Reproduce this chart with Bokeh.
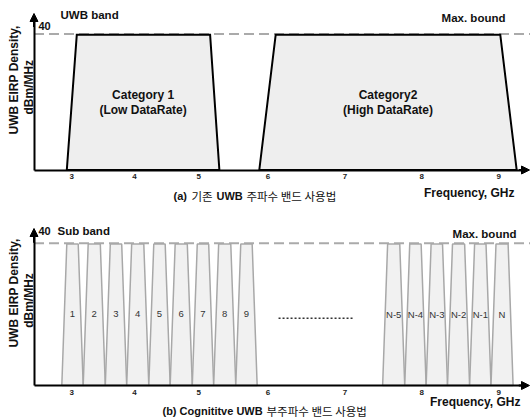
import numpy as np
from bokeh.plotting import figure
from bokeh.layouts import column
from bokeh.models import Range1d, FixedTicker, Arrow, NormalHead, Label
from bokeh.core.properties import value
from bokeh.embed import file_html
from bokeh.resources import INLINE

# ---------------- data ----------------
tick_pos = [2.99, 3.87, 4.77, 5.74, 6.82, 7.90, 8.98]
tick_labels = ["3", "4", "5", "6", "7", "8", "9"]
max_bound = 40

# (a) conventional UWB band usage
cat_names = ["Category 1\n(Low DataRate)", "Category2\n(High DataRate)"]
cat_bottom_lo = [2.92, 5.62]
cat_top_lo = [3.06, 5.85]
cat_top_hi = [4.93, 9.00]
cat_bottom_hi = [5.06, 9.23]
cat_level = [39.8, 39.8]

# (b) cognitive UWB sub-band usage
sub_names = ["1", "2", "3", "4", "5", "6", "7", "8", "9",
             "N-5", "N-4", "N-3", "N-2", "N-1", "N"]
sub_lo = [2.85, 3.15, 3.46, 3.76, 4.07, 4.37, 4.68, 4.98, 5.29,
          7.35, 7.66, 7.96, 8.26, 8.57, 8.87]
sub_hi = [3.15, 3.46, 3.76, 4.07, 4.37, 4.68, 4.98, 5.29, 5.59,
          7.66, 7.96, 8.26, 8.57, 8.87, 9.18]
sub_level = 39.8
gap_x = [5.89, 6.94]
gap_y = [18.9, 18.9]

# ---------------- style ----------------
LAT = "Liberation Sans"
KOR = "Noto Sans CJK KR"
XL, XR = 1.990, 9.424      # canvas extent in frequency units
YAX = 2.46                 # where the power axis stands
XTIP = 9.41


def base_fig(y_lo, y_hi, y_tip, std):
    p = figure(width=530, height=210, title=None,
               x_range=Range1d(XL, XR), y_range=Range1d(y_lo, y_hi),
               output_backend="svg", toolbar_location=None,
               min_border=0, min_border_left=0, min_border_right=0,
               min_border_top=0, min_border_bottom=0)
    p.grid.visible = False
    p.outline_line_color = None
    xa = p.xaxis[0]
    xa.fixed_location = 0
    xa.bounds = (YAX, XTIP - 0.05)
    xa.ticker = FixedTicker(ticks=tick_pos)
    xa.major_label_overrides = {t: l for t, l in zip(tick_pos, tick_labels)}
    xa.axis_line_width = 2
    xa.axis_line_color = "black"
    xa.major_tick_line_color = None
    xa.minor_tick_line_color = None
    xa.major_tick_out = 0
    xa.major_tick_in = 0
    xa.major_label_text_font = LAT
    xa.major_label_text_font_style = "bold"
    xa.major_label_text_font_size = "8px"
    xa.major_label_text_color = "#222222"
    xa.major_label_standoff = std
    ya = p.yaxis[0]
    ya.fixed_location = YAX
    ya.bounds = (0, y_tip - 1)
    ya.ticker = FixedTicker(ticks=[])
    ya.axis_line_width = 2
    ya.axis_line_color = "black"
    ya.major_tick_line_color = None
    ya.minor_tick_line_color = None
    ya.major_label_text_font_size = "0px"
    # max. bound dashed level
    p.line([YAX, XR], [max_bound, max_bound], line_color="#aaaaaa",
           line_width=2, line_dash="10 5")
    p.add_layout(Arrow(end=NormalHead(size=8, fill_color="black", line_color="black", line_width=1),
                       x_start=YAX, y_start=y_tip - 4, x_end=YAX, y_end=y_tip,
                       line_width=2, line_color="black"))
    p.add_layout(Arrow(end=NormalHead(size=8, fill_color="black", line_color="black", line_width=1),
                       x_start=XTIP - 0.15, y_start=0, x_end=XTIP, y_end=0,
                       line_width=2, line_color="black"))
    return p


def lab(p, x, y, text, size="11.5px", bold=True, font=LAT, align="left", angle=0):
    p.add_layout(Label(x=x, y=y, text=text, text_font=font,
                       text_font_style="bold" if bold else "normal",
                       text_font_size=size, text_align=align,
                       text_baseline="middle", text_color="#111111", angle=angle))


# ---------------- top panel ----------------
p1 = base_fig(-11.91, 49.85, 46.03, 4)
xs1 = [[a, b, c, d] for a, b, c, d in zip(cat_bottom_lo, cat_top_lo, cat_top_hi, cat_bottom_hi)]
ys1 = [[0, h, h, 0] for h in cat_level]
p1.patches(xs1, ys1, fill_color="#eeeeee", line_color="black", line_width=2,
           line_join="miter")
cx1 = [(a + d) / 2 for a, d in zip(cat_bottom_lo, cat_bottom_hi)]
p1.text(x=cx1, y=[19.85] * len(cx1), text=cat_names, text_font=value(LAT),
        text_font_style="bold", text_font_size="12px", text_align="center",
        text_baseline="middle", text_line_height=1.05, text_color="#111111")
lab(p1, 2.832, 45.7, "UWB band")
lab(p1, 2.523, 42.4, "40", size="11px")
lab(p1, 9.073, 44.85, "Max. bound", align="right")
lab(p1, 9.199, -6.62, "Frequency, GHz", size="12px", align="right")
lab(p1, 2.173, 26.5, "UWB EIRP Density,", size="12px", align="center", angle=np.pi / 2)
lab(p1, 2.383, 24.35, "dBm/MHz", size="12px", align="center", angle=np.pi / 2)
lab(p1, 4.417, -7.79, "(a)", size="11px")
lab(p1, 4.669, -7.79, "기존", size="11.5px", bold=False, font=KOR)
lab(p1, 5.020, -7.79, "UWB", size="11px")
lab(p1, 5.440, -7.79, "주파수 밴드 사용법", size="11.5px", bold=False, font=KOR)

# ---------------- bottom panel ----------------
p2 = base_fig(-9.84, 49.19, 44.13, 5)
inset = 0.07
xs2 = [[a, a + inset, b - inset, b] for a, b in zip(sub_lo, sub_hi)]
ys2 = [[0, sub_level, sub_level, 0] for _ in sub_lo]
p2.patches(xs2, ys2, fill_color="#f1f1f1", line_color="#a8a8a8", line_width=1.5)
cx2 = [(a + b) / 2 for a, b in zip(sub_lo, sub_hi)]
p2.text(x=cx2, y=[20] * len(cx2), text=sub_names, text_font=value(LAT),
        text_font_size="9.5px", text_align="center", text_baseline="middle",
        text_color="#333333")
p2.line(gap_x, gap_y, line_color="#333333", line_width=1.5, line_dash="2 2")
lab(p2, 2.79, 43.3, "Sub band")
lab(p2, 2.523, 43.3, "40", size="11px")
lab(p2, 9.227, 42.7, "Max. bound", align="right")
lab(p2, 9.283, -4.78, "Frequency, GHz", size="12px", align="right")
lab(p2, 2.173, 26.0, "UWB EIRP Density,", size="12px", align="center", angle=np.pi / 2)
lab(p2, 2.383, 23.9, "dBm/MHz", size="12px", align="center", angle=np.pi / 2)
lab(p2, 4.262, -7.31, "(b) Cognititve UWB", size="11px")
lab(p2, 5.721, -7.31, "부주파수 밴드 사용법", size="11.5px", bold=False, font=KOR)

layout = column(p1, p2, spacing=0)
open("out.html", "w").write(file_html(layout, INLINE))
